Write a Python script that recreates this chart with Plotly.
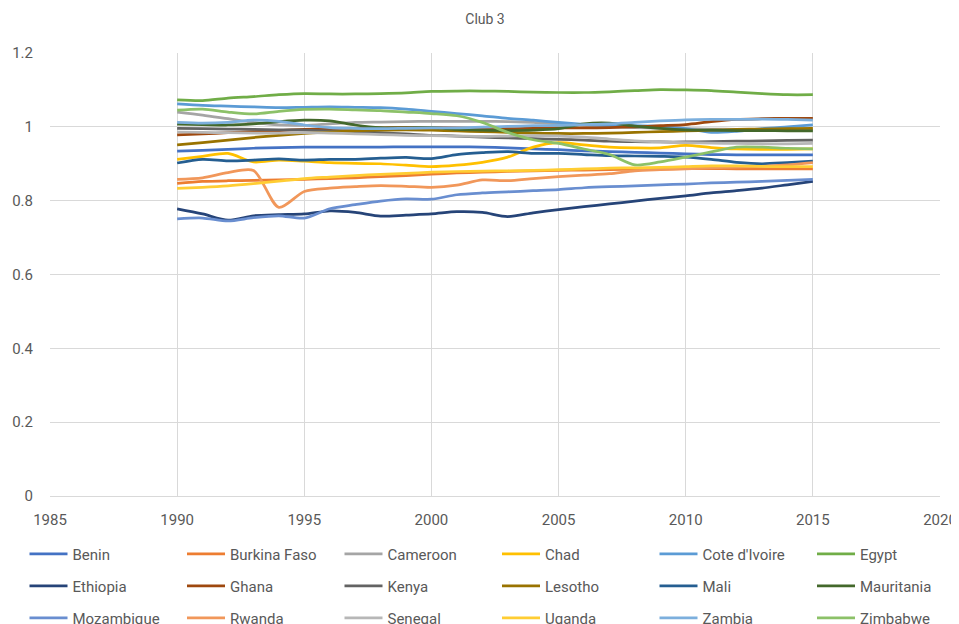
import plotly.graph_objects as go

years = list(range(1990, 2016))

benin = [0.934,0.936,0.939,0.942,0.944,0.945,0.945,0.945,0.945,0.946,0.946,0.946,0.945,0.943,0.940,0.938,0.935,0.933,0.931,0.929,0.927,0.925,0.924,0.924,0.924,0.924]
burkina_faso = [0.847,0.852,0.854,0.855,0.856,0.858,0.860,0.862,0.865,0.868,0.872,0.875,0.877,0.879,0.881,0.882,0.883,0.884,0.885,0.886,0.887,0.887,0.886,0.886,0.886,0.886]
cameroon = [1.040,1.032,1.022,1.012,1.005,1.004,1.008,1.012,1.013,1.014,1.015,1.015,1.015,1.014,1.012,1.008,1.004,1.000,0.998,0.996,0.995,0.994,0.993,0.992,0.992,0.992]
chad = [0.912,0.920,0.928,0.905,0.910,0.907,0.903,0.901,0.900,0.896,0.892,0.896,0.904,0.918,0.945,0.957,0.951,0.945,0.943,0.943,0.950,0.944,0.940,0.939,0.939,0.940]
cote_divoire = [1.062,1.058,1.056,1.054,1.052,1.053,1.054,1.053,1.052,1.048,1.042,1.036,1.030,1.023,1.018,1.012,1.007,1.003,1.003,1.001,0.995,0.985,0.988,0.995,1.000,1.005]
egypt = [1.073,1.071,1.078,1.082,1.087,1.090,1.089,1.089,1.090,1.092,1.096,1.097,1.097,1.096,1.094,1.093,1.093,1.095,1.098,1.101,1.100,1.098,1.094,1.090,1.087,1.087]
ethiopia = [0.778,0.764,0.747,0.759,0.762,0.764,0.772,0.768,0.758,0.761,0.764,0.770,0.768,0.757,0.767,0.776,0.784,0.791,0.799,0.806,0.813,0.821,0.827,0.834,0.843,0.852]
ghana = [0.978,0.981,0.984,0.987,0.990,0.993,0.995,0.996,0.997,0.998,0.998,0.997,0.996,0.995,0.996,0.997,0.997,0.998,1.000,1.003,1.006,1.014,1.020,1.022,1.023,1.023]
kenya = [0.996,0.995,0.994,0.993,0.992,0.991,0.989,0.987,0.984,0.981,0.977,0.975,0.972,0.970,0.968,0.966,0.964,0.961,0.960,0.959,0.959,0.960,0.961,0.962,0.963,0.964]
lesotho = [0.951,0.957,0.964,0.971,0.977,0.982,0.986,0.989,0.991,0.992,0.991,0.989,0.987,0.985,0.983,0.982,0.982,0.983,0.985,0.987,0.989,0.991,0.993,0.994,0.995,0.996]
mali = [0.902,0.912,0.908,0.910,0.913,0.910,0.912,0.912,0.915,0.917,0.914,0.925,0.930,0.933,0.928,0.928,0.925,0.922,0.921,0.920,0.918,0.912,0.904,0.900,0.903,0.907]
mauritania = [1.007,1.006,1.005,1.008,1.014,1.018,1.016,1.005,0.998,0.997,0.998,0.993,0.991,0.990,0.991,0.995,1.008,1.010,1.002,0.996,0.992,0.991,0.990,0.990,0.989,0.989]
mozambique = [0.751,0.753,0.745,0.754,0.759,0.753,0.778,0.789,0.799,0.805,0.804,0.816,0.821,0.824,0.827,0.830,0.835,0.838,0.840,0.843,0.845,0.848,0.850,0.852,0.855,0.858]
rwanda = [0.858,0.862,0.876,0.882,0.782,0.825,0.834,0.838,0.841,0.839,0.836,0.842,0.856,0.854,0.860,0.865,0.869,0.873,0.881,0.884,0.886,0.889,0.891,0.893,0.897,0.903]
senegal = [0.986,0.985,0.984,0.983,0.983,0.984,0.983,0.981,0.979,0.977,0.976,0.975,0.974,0.975,0.976,0.975,0.972,0.967,0.962,0.959,0.957,0.956,0.955,0.954,0.954,0.955]
uganda = [0.833,0.836,0.840,0.846,0.853,0.860,0.864,0.868,0.871,0.874,0.877,0.879,0.880,0.881,0.882,0.884,0.886,0.888,0.889,0.890,0.892,0.894,0.894,0.893,0.892,0.892]
zambia = [1.012,1.010,1.012,1.018,1.015,1.005,0.998,0.996,0.995,0.996,0.997,0.997,0.999,1.001,1.003,1.004,1.006,1.008,1.012,1.016,1.019,1.020,1.020,1.021,1.020,1.018]
zimbabwe = [1.045,1.048,1.040,1.035,1.042,1.047,1.048,1.046,1.044,1.040,1.036,1.030,1.012,0.985,0.965,0.955,0.940,0.925,0.897,0.905,0.918,0.932,0.945,0.945,0.942,0.940]

names = ["Benin", "Burkina Faso", "Cameroon", "Chad", "Cote d'Ivoire", "Egypt",
         "Ethiopia", "Ghana", "Kenya", "Lesotho", "Mali", "Mauritania",
         "Mozambique", "Rwanda", "Senegal", "Uganda", "Zambia", "Zimbabwe"]
series = [benin, burkina_faso, cameroon, chad, cote_divoire, egypt,
          ethiopia, ghana, kenya, lesotho, mali, mauritania,
          mozambique, rwanda, senegal, uganda, zambia, zimbabwe]
colors = ["#4472C4", "#ED7D31", "#A5A5A5", "#FFC000", "#5B9BD5", "#70AD47",
          "#264478", "#9E480E", "#636363", "#997300", "#255E91", "#43682B",
          "#698ED0", "#F1975A", "#B7B7B7", "#FFCD33", "#7CAFDD", "#8CC168"]

W, H = 959, 616  # page adds an 8px body margin

fig = go.Figure()
for i, (n, s, c) in enumerate(zip(names, series, colors)):
    row, col = divmod(i, 6)
    # columns 1-5 of each row share one legend; column 6 gets its own
    leg_num = row + 1 if col < 5 else row + 4
    leg_id = "legend" if leg_num == 1 else f"legend{leg_num}"
    fig.add_trace(go.Scatter(
        x=years, y=s, name=n, mode="lines",
        line=dict(color=c, width=2.75, shape="spline", smoothing=0.8),
        legend=leg_id,
    ))

font_family = "Roboto, Arial, sans-serif"
tick_font = dict(family=font_family, size=15, color="#595959")

leg_common = dict(orientation="h", xref="container", yref="container",
                  xanchor="left", yanchor="middle",
                  font=dict(family=font_family, size=15, color="#595959"),
                  entrywidth=104.5, entrywidthmode="pixels",
                  bgcolor="rgba(0,0,0,0)", itemwidth=38)

row_y = [1 - 546 / H, 1 - 578 / H, 1 - 610 / H]
x_main = 16.5 / W
x_last = (16.5 + 5 * 157.5) / W

legends = {}
for r in range(3):
    k1 = "legend" if r == 0 else f"legend{r + 1}"
    legends[k1] = dict(**leg_common, x=x_main, y=row_y[r])
    legends[f"legend{r + 4}"] = dict(**leg_common, x=x_last, y=row_y[r])

fig.update_layout(
    width=W, height=H,
    paper_bgcolor="white", plot_bgcolor="white",
    margin=dict(l=42, r=27, t=45, b=128, autoexpand=False),
    title=dict(text="Club 3", x=(485 - 8) / W, xanchor="center", yref="container",
               y=1 - 11 / H, yanchor="middle",
               font=dict(family=font_family, size=14, color="#595959")),
    xaxis=dict(range=[1985, 2020], dtick=5, tick0=1985, showgrid=True,
               gridcolor="#D9D9D9", gridwidth=1, zeroline=False,
               showline=True, linecolor="#D9D9D9", tickfont=tick_font,
               ticks="", mirror=False, ticklabelstandoff=10),
    yaxis=dict(range=[0, 1.2], dtick=0.2, showgrid=True, gridcolor="#D9D9D9",
               gridwidth=1, zeroline=False, showline=False, tickfont=tick_font,
               ticks="", ticklabelstandoff=16),
    **legends,
)

fig.write_html("out.html")
